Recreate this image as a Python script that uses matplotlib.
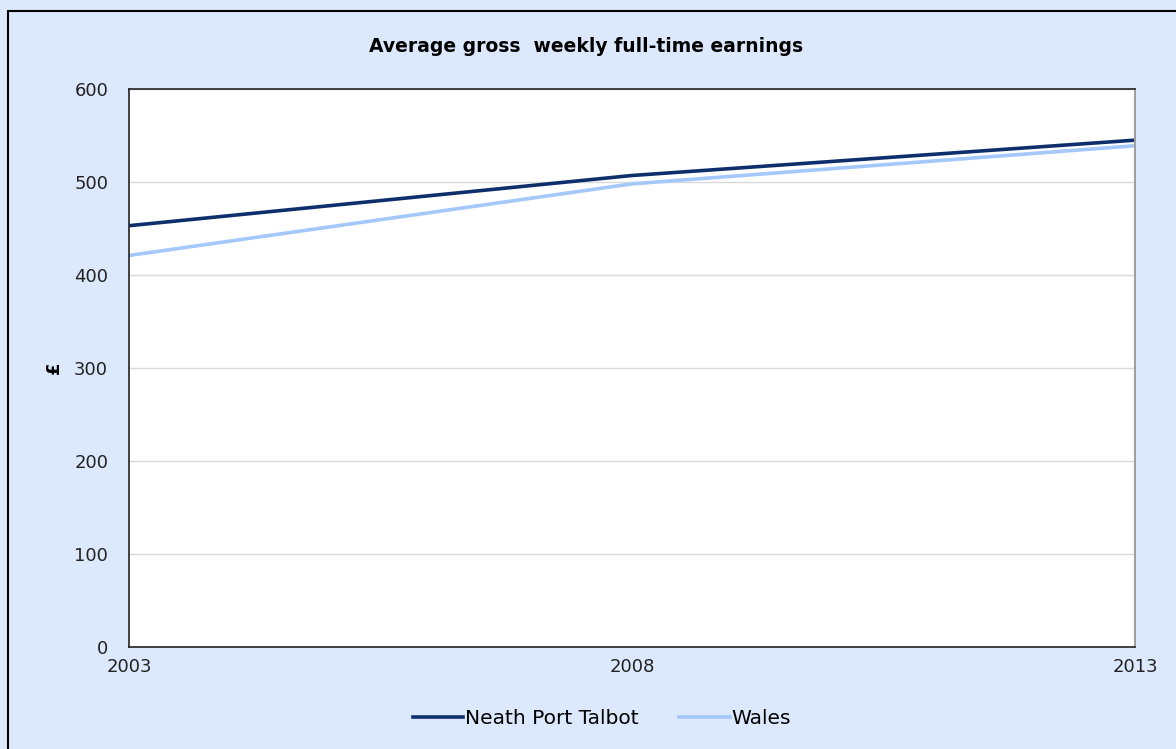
import matplotlib
matplotlib.use("Agg")
import matplotlib.pyplot as plt
from matplotlib.patches import Rectangle

# data
years = [2003, 2008, 2013]
npt = [453, 507, 545]
wales = [421, 498, 539]
yticks = [0, 100, 200, 300, 400, 500, 600]

bg = '#dce9fc'

fig = plt.figure(figsize=(11.76, 7.49), dpi=100)
fig.patch.set_facecolor(bg)
# outer chart border (right/bottom edges fall off the image)
fig.patches.append(Rectangle((8 / 1176, -0.05), 1.2, 1 - 11 / 749 + 0.05,
                             transform=fig.transFigure, fill=False,
                             edgecolor='black', linewidth=1.5))

ax = fig.add_axes([129 / 1176, 1 - 647 / 749, (1135 - 129) / 1176, (647 - 89) / 749])
ax.set_facecolor('white')

ax.plot(years, npt, color='#0f2f6c', linewidth=2.6, label='Neath Port Talbot')
ax.plot(years, wales, color='#a4c8fa', linewidth=2.6, label='Wales')

ax.set_xlim(2003, 2013)
ax.set_ylim(0, 600)
ax.set_xticks(years)
ax.set_yticks(yticks)
ax.grid(axis='y', color='#d9d9d9', linewidth=1)
ax.set_axisbelow(True)

for s in ['left', 'bottom', 'top']:
    ax.spines[s].set_color('#222222')
    ax.spines[s].set_linewidth(1.2)
ax.spines['right'].set_color('#a0a0a0')
ax.spines['right'].set_linewidth(1.5)

ax.tick_params(axis='both', labelsize=13, colors='#222222', length=0)
ax.tick_params(axis='x', pad=8)
ax.tick_params(axis='y', pad=15)

ax.set_ylabel('£', fontsize=13, fontweight='bold', labelpad=8)

fig.text(586 / 1176, 1 - 46 / 749, 'Average gross  weekly full-time earnings',
         ha='center', va='center', fontsize=13.5, fontweight='bold')

fig.legend(loc='center', bbox_to_anchor=(602 / 1176, 1 - 719 / 749), ncol=2,
           frameon=False, fontsize=14.5, handlelength=2.5, handletextpad=0.1,
           columnspacing=2.0)

fig.savefig('out.png', dpi=100, facecolor=bg)
